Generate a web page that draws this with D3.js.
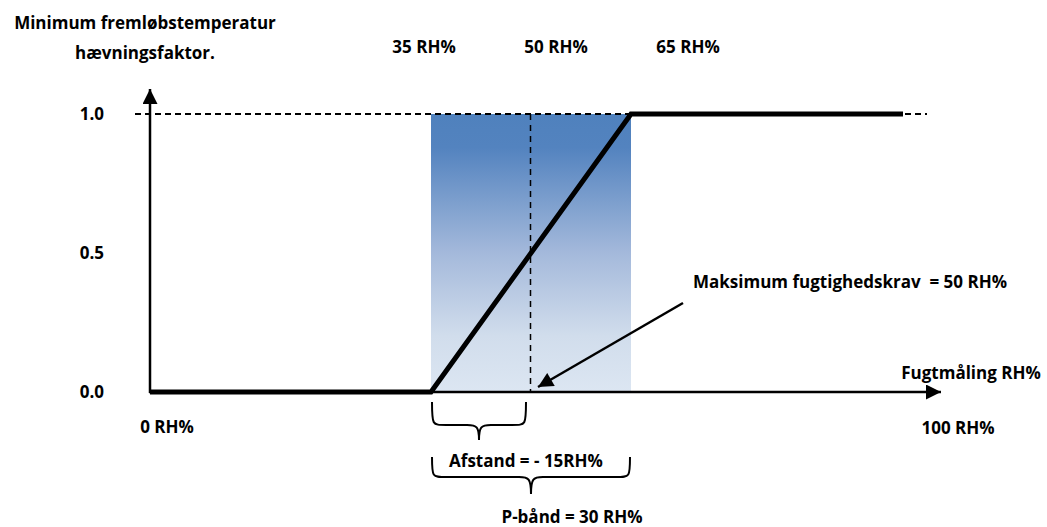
<!DOCTYPE html>
<html>
<head>
<meta charset="utf-8">
<script src="https://cdn.jsdelivr.net/npm/d3@7"></script>
<style>
  body { margin: 0; background: #fff; }
  svg text { font-family: "Open Sans", Lato, sans-serif; font-weight: 700; fill: #000; }
</style>
</head>
<body>
<svg id="chart" width="1047" height="527"></svg>
<script>
// Data
const curveRH = [0, 35, 65, 100];          // humidity points of the factor curve
const curveFactor = [0, 0, 1, 1];          // raise factor at those points
const yTicks = [0, 0.5, 1];
const yTickLabels = ["0.0", "0.5", "1.0"];
const topTicks = [35, 50, 65];
const topTickLabels = ["35 RH%", "50 RH%", "65 RH%"];
const bandStart = 35, bandEnd = 65, setpoint = 50;
const titleLines = ["Minimum fremløbstemperatur", "hævningsfaktor."];

const svg = d3.select("#chart");
const fontSize = "17px";

// Scales (schematic, so x is piecewise)
const x = d3.scaleLinear().domain([0, 35, 50, 65, 100]).range([150, 431, 531, 631, 903]);
const y = d3.scaleLinear().domain([0, 1]).range([392, 114]);
const topLabelX = d3.scaleLinear().domain([35, 65]).range([424, 688]);

// Gradient for the P-band
const defs = svg.append("defs");
const grad = defs.append("linearGradient").attr("id", "band")
  .attr("x1", 0).attr("y1", 0).attr("x2", 0).attr("y2", 1);
grad.append("stop").attr("offset", "0%").attr("stop-color", "#4f81bd");
grad.append("stop").attr("offset", "12%").attr("stop-color", "#5383bf");
grad.append("stop").attr("offset", "50%").attr("stop-color", "#a4b9db");
grad.append("stop").attr("offset", "80%").attr("stop-color", "#d1ddec");
grad.append("stop").attr("offset", "100%").attr("stop-color", "#dce6f2");

svg.append("rect")
  .attr("x", x(bandStart))
  .attr("y", y(1))
  .attr("width", x(bandEnd) - x(bandStart))
  .attr("height", y(0) - y(1))
  .attr("fill", "url(#band)");

// Arrow heads
defs.append("marker").attr("id", "arr")
  .attr("viewBox", "0 0 10 10").attr("refX", 10).attr("refY", 5)
  .attr("markerWidth", 17).attr("markerHeight", 15)
  .attr("markerUnits", "userSpaceOnUse")
  .attr("orient", "auto")
  .append("path").attr("d", "M0,0 L10,5 L0,10 Z").attr("fill", "#000");

// Dashed reference lines
svg.append("line")
  .attr("x1", 135).attr("x2", 927)
  .attr("y1", y(1)).attr("y2", y(1))
  .attr("stroke", "#000").attr("stroke-width", 2.2)
  .attr("stroke-dasharray", "6,4");

svg.append("line")
  .attr("x1", x(setpoint) - 0.5).attr("x2", x(setpoint) - 0.5)
  .attr("y1", y(1)).attr("y2", y(0))
  .attr("stroke", "#000").attr("stroke-width", 1.5)
  .attr("stroke-dasharray", "6,5");

// Axes
svg.append("line")
  .attr("x1", 150).attr("x2", 150)
  .attr("y1", y(0) + 1).attr("y2", 89)
  .attr("stroke", "#000").attr("stroke-width", 2.5)
  .attr("marker-end", "url(#arr)");

svg.append("line")
  .attr("x1", 149).attr("x2", 941)
  .attr("y1", y(0)).attr("y2", y(0))
  .attr("stroke", "#000").attr("stroke-width", 2.5)
  .attr("marker-end", "url(#arr)");

// Factor curve
const pts = curveRH.map((v, i) => [v, curveFactor[i]]);
svg.append("path")
  .datum(pts)
  .attr("d", d3.line().x(d => x(d[0])).y(d => y(d[1])))
  .attr("fill", "none")
  .attr("stroke", "#000")
  .attr("stroke-width", 5)
  .attr("stroke-linejoin", "miter");

// Annotation arrow
svg.append("line")
  .attr("x1", 683).attr("y1", 303)
  .attr("x2", x(setpoint) + 7).attr("y2", y(0) - 5)
  .attr("stroke", "#000").attr("stroke-width", 2.5)
  .attr("marker-end", "url(#arr)");

// Y tick labels
svg.selectAll(".ylab")
  .data(yTicks)
  .enter().append("text")
  .attr("class", "ylab")
  .attr("x", 104)
  .attr("y", d => y(d))
  .attr("dy", "0.35em")
  .attr("text-anchor", "end")
  .style("font-size", fontSize)
  .text((d, i) => yTickLabels[i]);

// Top RH labels
svg.selectAll(".tlab")
  .data(topTicks)
  .enter().append("text")
  .attr("class", "tlab")
  .attr("x", d => topLabelX(d))
  .attr("y", 47)
  .attr("dy", "0.35em")
  .attr("text-anchor", "middle")
  .style("font-size", fontSize)
  .text((d, i) => topTickLabels[i]);

// Title
svg.selectAll(".title")
  .data(titleLines)
  .enter().append("text")
  .attr("class", "title")
  .attr("x", 145)
  .attr("y", (d, i) => 23 + i * 30)
  .attr("dy", "0.35em")
  .attr("text-anchor", "middle")
  .style("font-size", fontSize)
  .text(d => d);

// Other labels
const labels = [
  { t: "0 RH%", x: 167, y: 427 },
  { t: "100 RH%", x: 958, y: 428 },
  { t: "Fugtmåling RH%", x: 971, y: 373 },
  { t: "Maksimum fugtighedskrav  = 50 RH%", x: 850, y: 282 },
  { t: "Afstand = - 15RH%", x: 526, y: 461 },
  { t: "P-bånd = 30 RH%", x: 572, y: 517 }
];
svg.selectAll(".lab")
  .data(labels)
  .enter().append("text")
  .attr("class", "lab")
  .attr("x", d => d.x)
  .attr("y", d => d.y)
  .attr("dy", "0.35em")
  .attr("text-anchor", "middle")
  .style("font-size", fontSize)
  .style("white-space", "pre")
  .attr("xml:space", "preserve")
  .text(d => d.t);

// Curly braces
function brace(x1, x2, y0, y1, tip) {
  const xm = (x1 + x2) / 2;
  return `M${x1},${y0} C${x1},${y1} ${x1},${y1} ${x1 + 14},${y1} L${xm - 12},${y1} C${xm - 2},${y1} ${xm},${y1 + 2} ${xm},${tip}` +
         ` M${x2},${y0} C${x2},${y1} ${x2},${y1} ${x2 - 14},${y1} L${xm + 12},${y1} C${xm + 2},${y1} ${xm},${y1 + 2} ${xm},${tip}`;
}
svg.append("path")
  .attr("d", brace(x(35) + 1, x(setpoint) - 5, 402, 425, 440))
  .attr("fill", "none").attr("stroke", "#000").attr("stroke-width", 2);
svg.append("path")
  .attr("d", brace(x(35) + 1, x(65) - 1, 457, 477, 494))
  .attr("fill", "none").attr("stroke", "#000").attr("stroke-width", 2);
</script>
</body>
</html>
